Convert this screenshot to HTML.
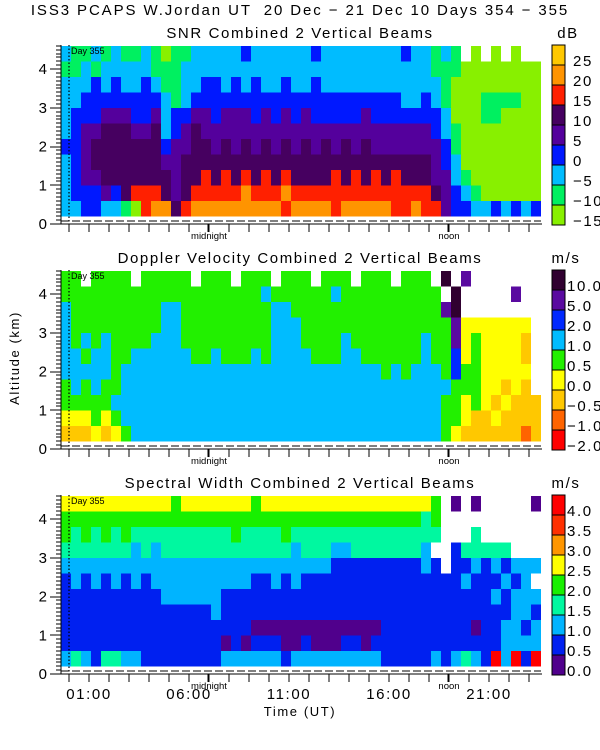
<!DOCTYPE html>
<html><head><meta charset="utf-8"><style>
body{margin:0;background:#fff;}
svg{display:block;font-family:"Liberation Sans",sans-serif;}
text{fill:#000;white-space:pre;}
.ls{letter-spacing:1.6px;}
</style></head><body>
<svg id="chart" width="600" height="750" viewBox="0 0 600 750">
<text class="ls" x="300" y="15" font-size="15" text-anchor="middle" xml:space="preserve" style="letter-spacing:1.9px">ISS3 PCAPS W.Jordan UT  20 Dec − 21 Dec 10 Days 354 − 355</text>
<text class="ls" transform="translate(19,358) rotate(-90)" font-size="13" text-anchor="middle">Altitude (km)</text>
<text class="ls" x="300" y="716" font-size="13" text-anchor="middle">Time (UT)</text>
</svg>
<script>
// ---- shared axis data ----
const timeTickLabels = ["01:00","06:00","11:00","16:00","21:00"];
const timeTickHours = [1,6,11,16,21];
const altTicks = [0,1,2,3,4];
const colStartHour = -0.4, colStepHour = 0.5;
const rowStartKm = 0.2, rowStepKm = 0.4;
const midnightHour = 7, noonHour = 19;

// ---- SNR panel ----
const snrTitle = "SNR Combined 2 Vertical Beams";
const snrUnits = "dB";
const snrLabels = ["25","20","15","10","5","0","−5","−10","−15"];
const snrColors = ["#88f000","#00f060","#00bcff","#0018ff","#54009c","#460060","#ff2000","#ff9400","#ffc800"];
// rows from top (4.2-4.6 km) to bottom (0.2-0.6 km); digit = colour level index, '.' = no data
const snrRows = [
"21121211210112"+"2222322222232222222232"+"2121.0.0.0..",
"11212222211122"+"2222222222222222222222"+"211100000000",
"22232322321122"+"3323232232232222222222"+"221000000000",
"22333333332123"+"3333333333333333333322"+"321000111100",
"23334443342334"+"4344434343433333433333"+"332000110000",
"23445554452345"+"4444444444444444444444"+"432100000000",
"33455555553445"+"5454545454545454544444"+"443100000000",
"23455555554455"+"5555555555555555555555"+"543200000000",
"23445555555455"+"6565656565555656565655"+"544210000000",
"23334356665456"+"6666766676666666666666"+"654321000000",
"22332210677567"+"7777777767777677777667"+"664332232323"
];

// ---- Doppler panel ----
const dopTitle = "Doppler Velocity Combined 2 Vertical Beams";
const dopUnits = "m/s";
const dopLabels = ["10.0","5.0","2.0","1.0","0.5","0.0","−0.5","−1.0","−2.0"];
const dopColors = ["#ff0000","#ff6400","#ffc800","#ffff00","#22f000","#00bcff","#0028ff","#5a0aa0","#300030"];
const dopRows = [
"44.4444.44444."+"444.444.444.444.444.44"+"4.8.7.......",
"44444444444444"+"4444445444444544444444"+"44.8.....7..",
"54444444445544"+"4444444554444444444444"+"4478........",
"54444444445544"+"4444444555444444444444"+"44473333333.",
"54545444455544"+"4444444555444454444444"+"54473433332.",
"55455445555554"+"4544454555544455444444"+"54463433332.",
"55555455555555"+"5555555555555555554545"+"55464433333.",
"45454455555555"+"5555555555555555555555"+"55544433232.",
"44444555555555"+"5555555555555555555555"+"554434323222",
"33343455555555"+"5555555555555555555555"+"554432232222",
"22232345555555"+"5555555555555555555555"+"554322222212"
];

// ---- Spectral width panel ----
const swTitle = "Spectral Width Combined 2 Vertical Beams";
const swUnits = "m/s";
const swLabels = ["4.0","3.5","3.0","2.5","2.0","1.5","1.0","0.5","0.0"];
const swColors = ["#50008c","#0020f0","#00b4ff","#00f8a0","#18f000","#ffff00","#ff9600","#ff3000","#ff0000"];
const swRows = [
"55555555555455"+"5555545555555555555555"+"54.0.0.....0",
"44444444444444"+"4444444444444444444444"+"34..........",
"43434343333333"+"3334333343333333333333"+"33...3......",
"33333332323333"+"3333333332333223333333"+"2..133333...",
"22222222222222"+"2222222222222111111111"+"21.112121222",
"12121212122222"+"2222211212111111111111"+"11112111212.",
"11111111112222"+"2211111111111111111111"+"111111121222",
"11111111111111"+"1211111111111111111111"+"111111111221",
"11111111111111"+"1111100000000000001111"+"111110112212",
"11111111111111"+"1101011100100011011111"+"111111112222",
"23213322111111"+"1122222212222222221111"+"121232182818"
];

const NS="http://www.w3.org/2000/svg";
const svg=document.getElementById('chart');
const plotL=61, plotR=541, pxPerHour=20, hour0X=69, pxPerKm=38.75;
function xOf(h){return hour0X+h*pxPerHour;}
function mk(tag,attrs,parent){const e=document.createElementNS(NS,tag);for(const k in attrs)e.setAttribute(k,attrs[k]);(parent||svg).appendChild(e);return e;}

function drawPanel(idx,title,units,labels,colors,rows){
  const off=idx*225;
  const zeroY=224+off, topY=45+off;
  function yOf(km){return zeroY-km*pxPerKm;}
  const g=mk('g',{});
  
  
  const t=mk('text',{x:300,y:38+off,'font-size':15,'text-anchor':'middle','class':'ls'},g);
  t.textContent=title;
  
  
  const u=mk('text',{x:units==="dB"?568:566,y:38+off,'font-size':15,'text-anchor':'middle','class':'ls'},g);
  u.textContent=units;
  
  
  // heatmap cells
  const hm=mk('g',{'shape-rendering':'crispEdges'},g);
  
  
  const nRows=rows.length;
  rows.forEach((row,ri)=>{
    const level=nRows-1-ri;
    const kmLo=rowStartKm+level*rowStepKm, kmHi=Math.min(kmLo+rowStepKm, 4.62);
    for(let c=0;c<row.length;c++){
      const ch=row[c]; if(ch==='.')continue;
      const h0=colStartHour+c*colStepHour;
      const x0=Math.max(plotL,xOf(h0)), x1=Math.min(plotR,xOf(h0+colStepHour));
      const r=mk('rect',{x:x0,y:yOf(kmHi),width:x1-x0,height:yOf(kmLo)-yOf(kmHi),fill:colors[+ch]},hm);
      
      
    }
  });
  // day line
  const dl=mk('line',{x1:xOf(0),x2:xOf(0),y1:topY,y2:zeroY,stroke:'#000','stroke-width':1.2,'stroke-dasharray':'1.5,2'},g);
  
  
  const dt=mk('text',{x:71,y:topY+9,'font-size':9},g);
  dt.textContent='Day 355';
  
  
  // axes
  const ax=mk('g',{stroke:'#000','stroke-width':1.3,fill:'none','shape-rendering':'crispEdges'},g);
  
  
  mk('line',{x1:plotL,x2:plotL,y1:topY,y2:zeroY},ax);
  mk('line',{x1:50,x2:542,y1:zeroY,y2:zeroY},ax);
  mk('line',{x1:plotL,x2:plotR,y1:zeroY-3,y2:zeroY-3,'stroke-dasharray':'8,3'},ax);
  for(let k=0;k<=46;k++){const km=k/10;const y=Math.round(yOf(km));mk('line',{x1:plotL-(k%10===0?11:5),x2:plotL,y1:y,y2:y},ax);}
  for(let h=0;h<=23;h++){mk('line',{x1:xOf(h),x2:xOf(h),y1:zeroY,y2:zeroY+8},ax);}
  mk('line',{x1:xOf(midnightHour)-1,x2:xOf(midnightHour)-1,y1:zeroY,y2:zeroY+8},ax);
  mk('line',{x1:xOf(noonHour)-1,x2:xOf(noonHour)-1,y1:zeroY,y2:zeroY+8},ax);
  altTicks.forEach(v=>{const tl=mk('text',{x:47,y:yOf(v)+5,'font-size':15,'text-anchor':'end'},g);tl.textContent=v;
    
    });
  const mn=mk('text',{x:xOf(midnightHour),y:zeroY+15,'font-size':9.5,'text-anchor':'middle'},g);mn.textContent='midnight';
  
  
  const nn=mk('text',{x:xOf(noonHour),y:zeroY+15,'font-size':9.5,'text-anchor':'middle'},g);nn.textContent='noon';
  
  
  // colorbar
  const cb=mk('g',{},g);
  
  
  const binH=20;
  for(let i=0;i<9;i++){
    const y=topY+i*binH;
    const r=mk('rect',{x:552,y:y,width:13,height:binH,fill:colors[8-i],stroke:'#000','stroke-width':1},cb);
    
    
    const lt=mk('text',{x:units==="dB"?573:567,y:y+binH+1,'font-size':15,'class':'ls'},cb);lt.textContent=labels[i];
    
    
  }
}
drawPanel(0,snrTitle,snrUnits,snrLabels,snrColors,snrRows);
drawPanel(1,dopTitle,dopUnits,dopLabels,dopColors,dopRows);
drawPanel(2,swTitle,swUnits,swLabels,swColors,swRows);
timeTickHours.forEach((h,i)=>{const t=mk('text',{x:xOf(h),y:699,'font-size':15,'text-anchor':'middle','class':'ls'});t.textContent=timeTickLabels[i];
  
  });
</script>
</body></html>
